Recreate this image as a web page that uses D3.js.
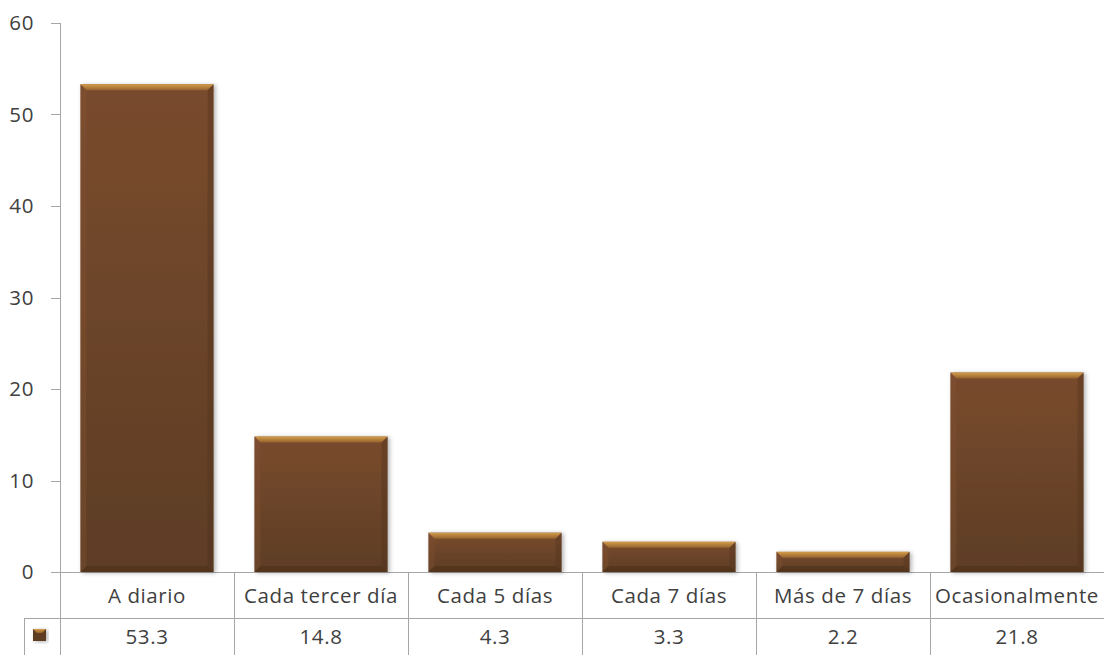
<!DOCTYPE html>
<html><head><meta charset="utf-8">
<script src="https://cdn.jsdelivr.net/npm/d3@7"></script>
<style>
html,body{margin:0;padding:0;background:#fff;}
svg{display:block;}
text{font-family:"Open Sans",Lato,sans-serif;fill:#404040;letter-spacing:0.6px;}
</style></head>
<body>
<svg id="c" width="1104" height="655"></svg>
<script>
const categories = ["A diario","Cada tercer día","Cada 5 días","Cada 7 días","Más de 7 días","Ocasionalmente"];
const values = [53.3, 14.8, 4.3, 3.3, 2.2, 21.8];
const valueLabels = ["53.3","14.8","4.3","3.3","2.2","21.8"];
const yTicks = [0,10,20,30,40,50,60];

(function(){
const svg = d3.select("#c");
const pLeft = 60, pRight = 1104, pTop = 23, pBottom = 572;
const row1 = 618, row2 = 660;
const fs = 20.5;

const x = d3.scaleBand().domain(categories).range([pLeft, pRight]).paddingInner(0.235).paddingOuter(0.1175);
const xCell = d3.scaleBand().domain(categories).range([pLeft, pRight]).padding(0);
const y = d3.scaleLinear().domain([0,60]).range([pBottom, pTop]);

const defs = svg.append("defs");
const g1 = defs.append("linearGradient").attr("id","body").attr("x1",0).attr("y1",0).attr("x2",0).attr("y2",1);
g1.append("stop").attr("offset","0%").attr("stop-color","#794b2d");
g1.append("stop").attr("offset","100%").attr("stop-color","#5d3d25");
const g2 = defs.append("linearGradient").attr("id","topb").attr("x1",0).attr("y1",0).attr("x2",0).attr("y2",1);
g2.append("stop").attr("offset","0%").attr("stop-color","#d49c4a");
g2.append("stop").attr("offset","100%").attr("stop-color","#93622f");
const f = defs.append("filter").attr("id","sh").attr("x","-10%").attr("y","-10%").attr("width","130%").attr("height","130%");
f.append("feDropShadow").attr("dx",2).attr("dy",1).attr("stdDeviation",2).attr("flood-color","#000").attr("flood-opacity",0.3);

const lineCol = "#a6a6a6";
svg.append("line").attr("x1",pLeft+0.5).attr("x2",pLeft+0.5).attr("y1",pTop).attr("y2",row2).attr("stroke",lineCol);
svg.selectAll(".tk").data(yTicks).join("line")
  .attr("x1",51).attr("x2",pLeft).attr("y1",d=>Math.round(y(d))+0.5).attr("y2",d=>Math.round(y(d))+0.5).attr("stroke",lineCol);
svg.append("line").attr("x1",pLeft).attr("x2",pRight).attr("y1",pBottom+0.5).attr("y2",pBottom+0.5).attr("stroke",lineCol);
svg.append("line").attr("x1",24).attr("x2",pRight).attr("y1",row1+0.5).attr("y2",row1+0.5).attr("stroke",lineCol);
svg.append("line").attr("x1",24.5).attr("x2",24.5).attr("y1",row1).attr("y2",row2).attr("stroke",lineCol);
svg.selectAll(".vl").data(categories.slice(1)).join("line")
  .attr("x1",d=>Math.round(xCell(d))+0.5).attr("x2",d=>Math.round(xCell(d))+0.5)
  .attr("y1",pBottom).attr("y2",row2).attr("stroke",lineCol);

svg.selectAll(".yl").data(yTicks).join("text")
  .attr("x",34).attr("y",d=>y(d)).attr("dy","0.36em").attr("text-anchor","end")
  .attr("font-size",fs).text(d=>d);

const bv = 6;
const bars = svg.selectAll(".bar").data(categories).join("g").attr("filter","url(#sh)");
bars.each(function(c,i){
  const g = d3.select(this);
  const x0 = x(c), x1 = x(c)+x.bandwidth(), y0 = y(values[i]), y1 = y(0);
  const b = Math.min(bv, (y1-y0)/2);
  g.append("rect").attr("x",x0).attr("y",y0).attr("width",x1-x0).attr("height",y1-y0).attr("fill","url(#body)");
  g.append("polygon").attr("points",[[x0,y0],[x1,y0],[x1-b,y0+b],[x0+b,y0+b]].join(" ")).attr("fill","url(#topb)");
  g.append("polygon").attr("points",[[x0,y0],[x0+b,y0+b],[x0+b,y1-b],[x0,y1]].join(" ")).attr("fill","#845433").attr("opacity",0.35);
  g.append("polygon").attr("points",[[x1,y0],[x1-b,y0+b],[x1-b,y1-b],[x1,y1]].join(" ")).attr("fill","#4e321d").attr("opacity",0.35);
  g.append("polygon").attr("points",[[x0,y1],[x0+b,y1-b],[x1-b,y1-b],[x1,y1]].join(" ")).attr("fill","#452c19").attr("opacity",0.45);
});

svg.selectAll(".cl").data(categories).join("text")
  .attr("x",d=>xCell(d)+xCell.bandwidth()/2).attr("y",(pBottom+row1)/2+1).attr("dy","0.36em")
  .attr("text-anchor","middle").attr("font-size",fs).text(d=>d);
svg.selectAll(".vl2").data(categories).join("text")
  .attr("x",d=>xCell(d)+xCell.bandwidth()/2).attr("y",637).attr("dy","0.36em")
  .attr("text-anchor","middle").attr("font-size",fs).text((d,i)=>valueLabels[i]);

const k = svg.append("g").attr("filter","url(#sh)");
k.append("rect").attr("x",33).attr("y",629).attr("width",13).attr("height",12).attr("fill","#5e3d24");
k.append("polygon").attr("points","33,629 46,629 42,633 37,633").attr("fill","url(#topb)");
})();
</script>
</body></html>
